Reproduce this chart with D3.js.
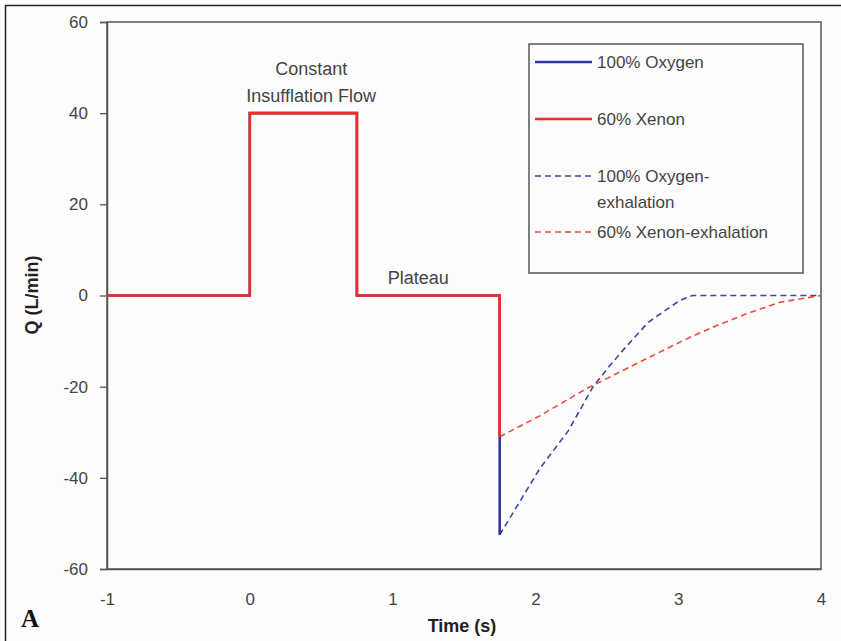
<!DOCTYPE html>
<html>
<head>
<meta charset="utf-8">
<script src="https://cdn.jsdelivr.net/npm/d3@7"></script>
<style>
  body { margin: 0; background: #fdfdfd; }
</style>
</head>
<body>
<script>
// data
const xTicks = [-1, 0, 1, 2, 3, 4]
const yTicks = [-60, -40, -20, 0, 20, 40, 60]

// insufflation (solid) traces: [time, flow]
const oxygen = [[-1, 0], [0, 0], [0, 40], [0.75, 40], [0.75, 0], [1.75, 0], [1.75, -52.5]]
const xenon = [[-1, 0], [0, 0], [0, 40], [0.75, 40], [0.75, 0], [1.75, 0], [1.75, -31]]

// exhalation (dashed) traces
const oxygenExh = [[1.75, -52.5], [2.03, -38], [2.23, -29.7], [2.4, -20.2], [2.51, -15.8], [2.63, -11.4],
  [2.79, -5.9], [2.89, -3.7], [3.01, -1.1], [3.1, 0], [4, 0]]
const xenonExh = [[1.75, -31], [2.03, -26.4], [2.36, -20.4], [2.57, -17.1], [2.82, -13.2], [3.08, -9.2],
  [3.27, -6.6], [3.48, -4.0], [3.71, -1.5], [4, 0]]

const legendItems = [
  { label: ['100% Oxygen'], color: '#2b3899', dash: null },
  { label: ['60% Xenon'], color: '#f22a2a', dash: null },
  { label: ['100% Oxygen-', 'exhalation'], color: '#3c45a8', dash: '6,4' },
  { label: ['60% Xenon-exhalation'], color: '#f04a3a', dash: '6,4' }
]

const W = 841, H = 641
const m = { left: 107, top: 22, right: 821, bottom: 569 }
const sans = '"Liberation Sans", Arial, sans-serif'

const svg = d3.select('body').append('svg')
  .attr('width', W).attr('height', H)
  .attr('font-family', sans)

// outer frame
svg.append('line').attr('x1', 5).attr('x2', W).attr('y1', 5.5).attr('y2', 5.5).attr('stroke', '#222').attr('stroke-width', 1.5)
svg.append('line').attr('x1', 5.5).attr('x2', 5.5).attr('y1', 5).attr('y2', H).attr('stroke', '#222').attr('stroke-width', 1.5)

const x = d3.scaleLinear().domain([-1, 4]).range([m.left, m.right])
const y = d3.scaleLinear().domain([-60, 60]).range([m.bottom, m.top])

// plot area border
svg.append('rect')
  .attr('x', m.left).attr('y', m.top)
  .attr('width', m.right - m.left).attr('height', m.bottom - m.top)
  .attr('fill', 'none').attr('stroke', '#555').attr('stroke-width', 1.5)

// axes
const fmt = d => String(d)
const yAxis = svg.append('g').attr('transform', `translate(${m.left},0)`)
  .call(d3.axisLeft(y).tickValues(yTicks).tickFormat(fmt).tickSize(7).tickPadding(12))
const xAxis = svg.append('g').attr('transform', `translate(0,${m.bottom})`)
  .call(d3.axisBottom(x).tickValues(xTicks).tickFormat(fmt).tickSize(0).tickPadding(24))

for (const ax of [yAxis, xAxis]) {
  ax.attr('font-family', sans)
  ax.select('.domain').attr('stroke', '#555').attr('stroke-width', 1.5)
  ax.selectAll('.tick line').attr('stroke', '#555').attr('stroke-width', 1.3)
  ax.selectAll('.tick text').attr('font-size', 17).attr('fill', '#444')
}

// lines
const line = d3.line().x(d => x(d[0])).y(d => y(d[1]))

svg.append('path').datum(oxygenExh).attr('d', line)
  .attr('fill', 'none').attr('stroke', '#3c45a8').attr('stroke-width', 1.6).attr('stroke-dasharray', '6,4')
svg.append('path').datum(xenonExh).attr('d', line)
  .attr('fill', 'none').attr('stroke', '#f04a3a').attr('stroke-width', 1.6).attr('stroke-dasharray', '6,4')
svg.append('path').datum(oxygen).attr('d', line)
  .attr('fill', 'none').attr('stroke', '#2b3899').attr('stroke-width', 2.6)
svg.append('path').datum(xenon).attr('d', line)
  .attr('fill', 'none').attr('stroke', '#f22a2a').attr('stroke-width', 2.6)

// annotations
const note = svg.append('g').attr('font-size', 18).attr('fill', '#444').attr('text-anchor', 'middle')
note.append('text').attr('x', x(0.43)).attr('y', 75).text('Constant')
note.append('text').attr('x', x(0.43)).attr('y', 102).text('Insufflation Flow')
note.append('text').attr('x', x(1.18)).attr('y', 284).text('Plateau')

// legend
const lg = svg.append('g')
lg.append('rect').attr('x', 529).attr('y', 44).attr('width', 274).attr('height', 229)
  .attr('fill', '#fdfdfd').attr('stroke', '#555').attr('stroke-width', 1.5)
const rowY = [62, 119, 176, 232]
legendItems.forEach((d, i) => {
  lg.append('line').attr('x1', 535).attr('x2', 592).attr('y1', rowY[i]).attr('y2', rowY[i])
    .attr('stroke', d.color).attr('stroke-width', d.dash ? 1.6 : 2.6)
    .attr('stroke-dasharray', d.dash)
  d.label.forEach((t, j) => {
    lg.append('text').attr('x', 597).attr('y', rowY[i] + 6 + j * 26)
      .attr('font-size', 17).attr('fill', '#444').text(t)
  })
})

// axis titles
svg.append('text').attr('x', 462).attr('y', 632).attr('text-anchor', 'middle')
  .attr('font-size', 18).attr('font-weight', 'bold').attr('fill', '#222').text('Time (s)')
svg.append('text').attr('transform', 'translate(38,295) rotate(-90)').attr('text-anchor', 'middle')
  .attr('font-size', 18).attr('font-weight', 'bold').attr('fill', '#222').text('Q (L/min)')

// panel letter
svg.append('text').attr('x', 21).attr('y', 627)
  .attr('font-family', '"Liberation Serif", "Times New Roman", serif')
  .attr('font-size', 25).attr('font-weight', 'bold').attr('fill', '#111').text('A')
</script>
</body>
</html>
